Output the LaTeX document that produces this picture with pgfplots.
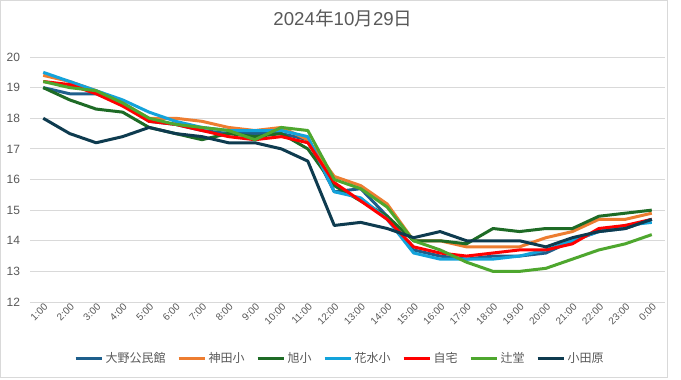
\documentclass[border=0pt]{standalone}
\usepackage{pgfplots}
\usepackage{pgfplotstable}
\pgfplotsset{compat=1.18}
\usepackage{fontspec}
\setmainfont{Liberation Sans}
\newfontfamily\cjk{Noto Sans CJK JP}
\definecolor{ohno}{HTML}{1E5F8C}
\definecolor{kanda}{HTML}{ED7D31}
\definecolor{asahi}{HTML}{1E6B26}
\definecolor{hanamizu}{HTML}{13A3DB}
\definecolor{jitaku}{HTML}{FF0000}
\definecolor{tsujido}{HTML}{4EA72E}
\definecolor{odawara}{HTML}{0E3B4F}
\definecolor{txtgray}{HTML}{595959}
\definecolor{gridgray}{HTML}{D9D9D9}

\pgfplotstableread{
x ohno kanda asahi hanamizu jitaku tsujido odawara
0  19.0 19.4 19.0 19.5 19.2 19.2 18.0
1  18.8 19.2 18.6 19.2 19.1 19.0 17.5
2  18.8 18.9 18.3 18.9 18.8 18.9 17.2
3  18.5 18.5 18.2 18.6 18.4 18.5 17.4
4  17.9 18.0 17.7 18.2 17.9 18.0 17.7
5  17.8 18.0 17.5 17.9 17.8 17.8 17.5
6  17.6 17.9 17.3 17.7 17.6 17.7 17.4
7  17.5 17.7 17.5 17.6 17.4 17.6 17.2
8  17.5 17.6 17.4 17.6 17.3 17.3 17.2
9  17.5 17.7 17.5 17.6 17.4 17.7 17.0
10 17.3 17.3 17.0 17.4 17.2 17.6 16.6
11 15.6 16.1 15.8 15.6 15.9 16.0 14.5
12 15.7 15.8 15.3 15.4 15.3 15.7 14.6
13 14.8 15.2 14.8 14.7 14.7 15.1 14.4
14 13.7 14.0 14.0 13.6 13.8 14.0 14.1
15 13.5 14.0 14.0 13.4 13.6 13.7 14.3
16 13.4 13.8 13.9 13.4 13.5 13.3 14.0
17 13.5 13.8 14.4 13.4 13.6 13.0 14.0
18 13.5 13.8 14.3 13.5 13.7 13.0 14.0
19 13.6 14.1 14.4 13.7 13.7 13.1 13.8
20 14.0 14.3 14.4 14.0 13.9 13.4 14.1
21 14.3 14.7 14.8 14.3 14.4 13.7 14.3
22 14.4 14.7 14.9 14.5 14.5 13.9 14.4
23 14.7 14.9 15.0 14.6 14.7 14.2 14.7
}\datatable

\begin{document}
\begin{tikzpicture}[x=1pt,y=1pt]
\useasboundingbox (0,0) rectangle (510.75,284.25);
\fill[white] (0,0) rectangle (510.75,284.25);
\draw[gridgray, line width=0.75pt] (0.375,1.5) rectangle (500.6,283.875);
\begin{axis}[
  at={(22.5pt,57.75pt)}, anchor=south west,
  scale only axis, width=476.25pt, height=183.75pt,
  xmin=-0.5, xmax=23.5, ymin=12, ymax=20,
  xtick={0,...,23},
  xticklabels={1:00,2:00,3:00,4:00,5:00,6:00,7:00,8:00,9:00,10:00,11:00,12:00,13:00,14:00,15:00,16:00,17:00,18:00,19:00,20:00,21:00,22:00,23:00,0:00},
  ytick={12,...,20},
  ymajorgrids, grid style={gridgray, line width=0.75pt},
  axis line style={draw=none},
  axis x line*=bottom, axis y line*=left,
  x axis line style={draw=gridgray, line width=0.75pt},
  major tick length=0pt,
  tick style={draw=none},
  ticklabel style={text=txtgray},
  yticklabel style={font=\fontsize{9pt}{10pt}\selectfont, xshift=-4pt},
  /pgf/number format/assume math mode=true,
  xticklabel style={font=\fontsize{7.5pt}{8pt}\selectfont, rotate=45, anchor=east, yshift=-3pt, xshift=1pt, inner sep=1pt},
  legend style={draw=none, at={(0.488,-0.229)}, anchor=center, legend columns=7,
    font=\cjk\fontsize{9pt}{10pt}\selectfont, text=txtgray,
    /tikz/every even column/.append style={column sep=7pt},
    nodes={inner xsep=1.5pt},
    inner sep=0pt},
  legend cell align=left,
  legend image code/.code={\draw[#1] (0pt,0pt) -- (20pt,0pt);},
  every axis plot/.append style={line width=2.25pt, line join=round, no marks},
  clip=false,
]
\addplot[ohno] table[x=x,y=ohno] {\datatable};
\addlegendentry{大野公民館}
\addplot[kanda] table[x=x,y=kanda] {\datatable};
\addlegendentry{神田小}
\addplot[asahi] table[x=x,y=asahi] {\datatable};
\addlegendentry{旭小}
\addplot[hanamizu] table[x=x,y=hanamizu] {\datatable};
\addlegendentry{花水小}
\addplot[jitaku] table[x=x,y=jitaku] {\datatable};
\addlegendentry{自宅}
\addplot[tsujido] table[x=x,y=tsujido] {\datatable};
\addlegendentry{辻堂}
\addplot[odawara] table[x=x,y=odawara] {\datatable};
\addlegendentry{小田原}
\end{axis}
\node[text=txtgray, font=\fontsize{14pt}{16pt}\selectfont] at (257.25,270.75) {2024{\cjk 年}10{\cjk 月}29{\cjk 日}};
\end{tikzpicture}
\end{document}
